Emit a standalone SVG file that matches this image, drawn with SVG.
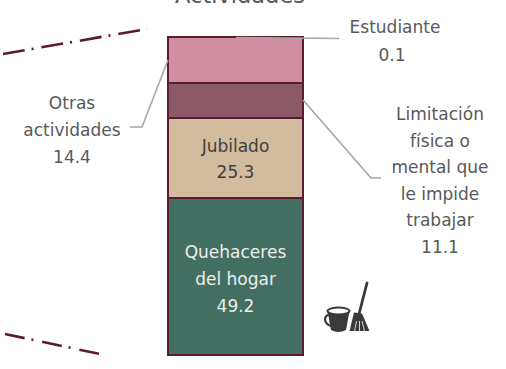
<svg xmlns="http://www.w3.org/2000/svg" width="506" height="369" viewBox="0 0 506 369">
<style>
.t{font-family:"DejaVu Sans","Liberation Sans",sans-serif;font-size:17px;text-anchor:middle;fill:#595959}
.in{fill:#404040}
.wh{fill:#EDEDED}
.seg{stroke:#5C1A33;stroke-width:2}
.lead{fill:none;stroke:#A6A6A6;stroke-width:1.6}
.dd{fill:none;stroke:#5C1A33;stroke-width:2.6}
.ico{fill:#3A3A3A}
</style>
<rect width="506" height="369" fill="#FFFFFF"/>
<text class="t" x="240" y="2.5" style="font-size:22.5px">Actividades</text>
<g id="bar">
<g id="otras"><rect class="seg" x="168" y="37" width="135" height="46" fill="#CF8FA0"/></g>
<g id="limitacion"><rect class="seg" x="168" y="83" width="135" height="35" fill="#8B5A67"/></g>
<g id="jubilado"><rect class="seg" x="168" y="118" width="135" height="80" fill="#D3BB9E"/>
<text class="t in" x="235.5" y="152">Jubilado</text>
<text class="t in" x="235.5" y="178">25.3</text></g>
<g id="quehaceres"><rect class="seg" x="168" y="198" width="135" height="157" fill="#436F62"/>
<text class="t wh" x="235.5" y="258">Quehaceres</text>
<text class="t wh" x="235.5" y="285">del hogar</text>
<text class="t wh" x="235.5" y="312">49.2</text></g>
</g>
<g id="connectors">
<polyline class="lead" points="236,37.5 339,38.5"/>
<polyline class="lead" points="168,60 142,127 130,127"/>
<polyline class="lead" points="303,100 371,178 381,178"/>
<line class="dd" x1="3" y1="54" x2="147" y2="29" stroke-dasharray="22 7 2 8"/>
<line class="dd" x1="5" y1="334" x2="100" y2="354" stroke-dasharray="20 7 2 9"/>
</g>
<g id="label-estudiante">
<text class="t" x="395" y="33">Estudiante</text>
<text class="t" x="392" y="60.5">0.1</text>
</g>
<g id="label-otras">
<text class="t" x="72" y="108.5">Otras</text>
<text class="t" x="72" y="135.5">actividades</text>
<text class="t" x="72" y="162.5">14.4</text>
</g>
<g id="label-limitacion">
<text class="t" x="440" y="120">Limitación</text>
<text class="t" x="440" y="146.5">física o</text>
<text class="t" x="440" y="173">mental que</text>
<text class="t" x="440" y="199.5">le impide</text>
<text class="t" x="440" y="226">trabajar</text>
<text class="t" x="440" y="252.5">11.1</text>
</g>
<g id="icon">
<path class="ico" d="M327.5,311 L331,330 Q338.5,334 346,330 L349.5,311 Z"/>
<ellipse cx="338.5" cy="311" rx="11" ry="3.4" fill="#FFFFFF" stroke="#3A3A3A" stroke-width="2"/>
<path d="M330,314 Q323.5,316 325.5,321.5 Q327.5,326 333,326" fill="none" stroke="#3A3A3A" stroke-width="2.2"/>
<line x1="367" y1="283" x2="358.5" y2="316" stroke="#3A3A3A" stroke-width="2.8" stroke-linecap="round"/>
<path class="ico" d="M354,312.5 L362,313.5 L369.5,331 L349.5,331 Z"/>
<path d="M354.5,331 L356.5,321 M359.5,331 L359.5,321 M364.5,331 L362,321" stroke="#FFFFFF" stroke-width="0.8"/>
</g>
</svg>
